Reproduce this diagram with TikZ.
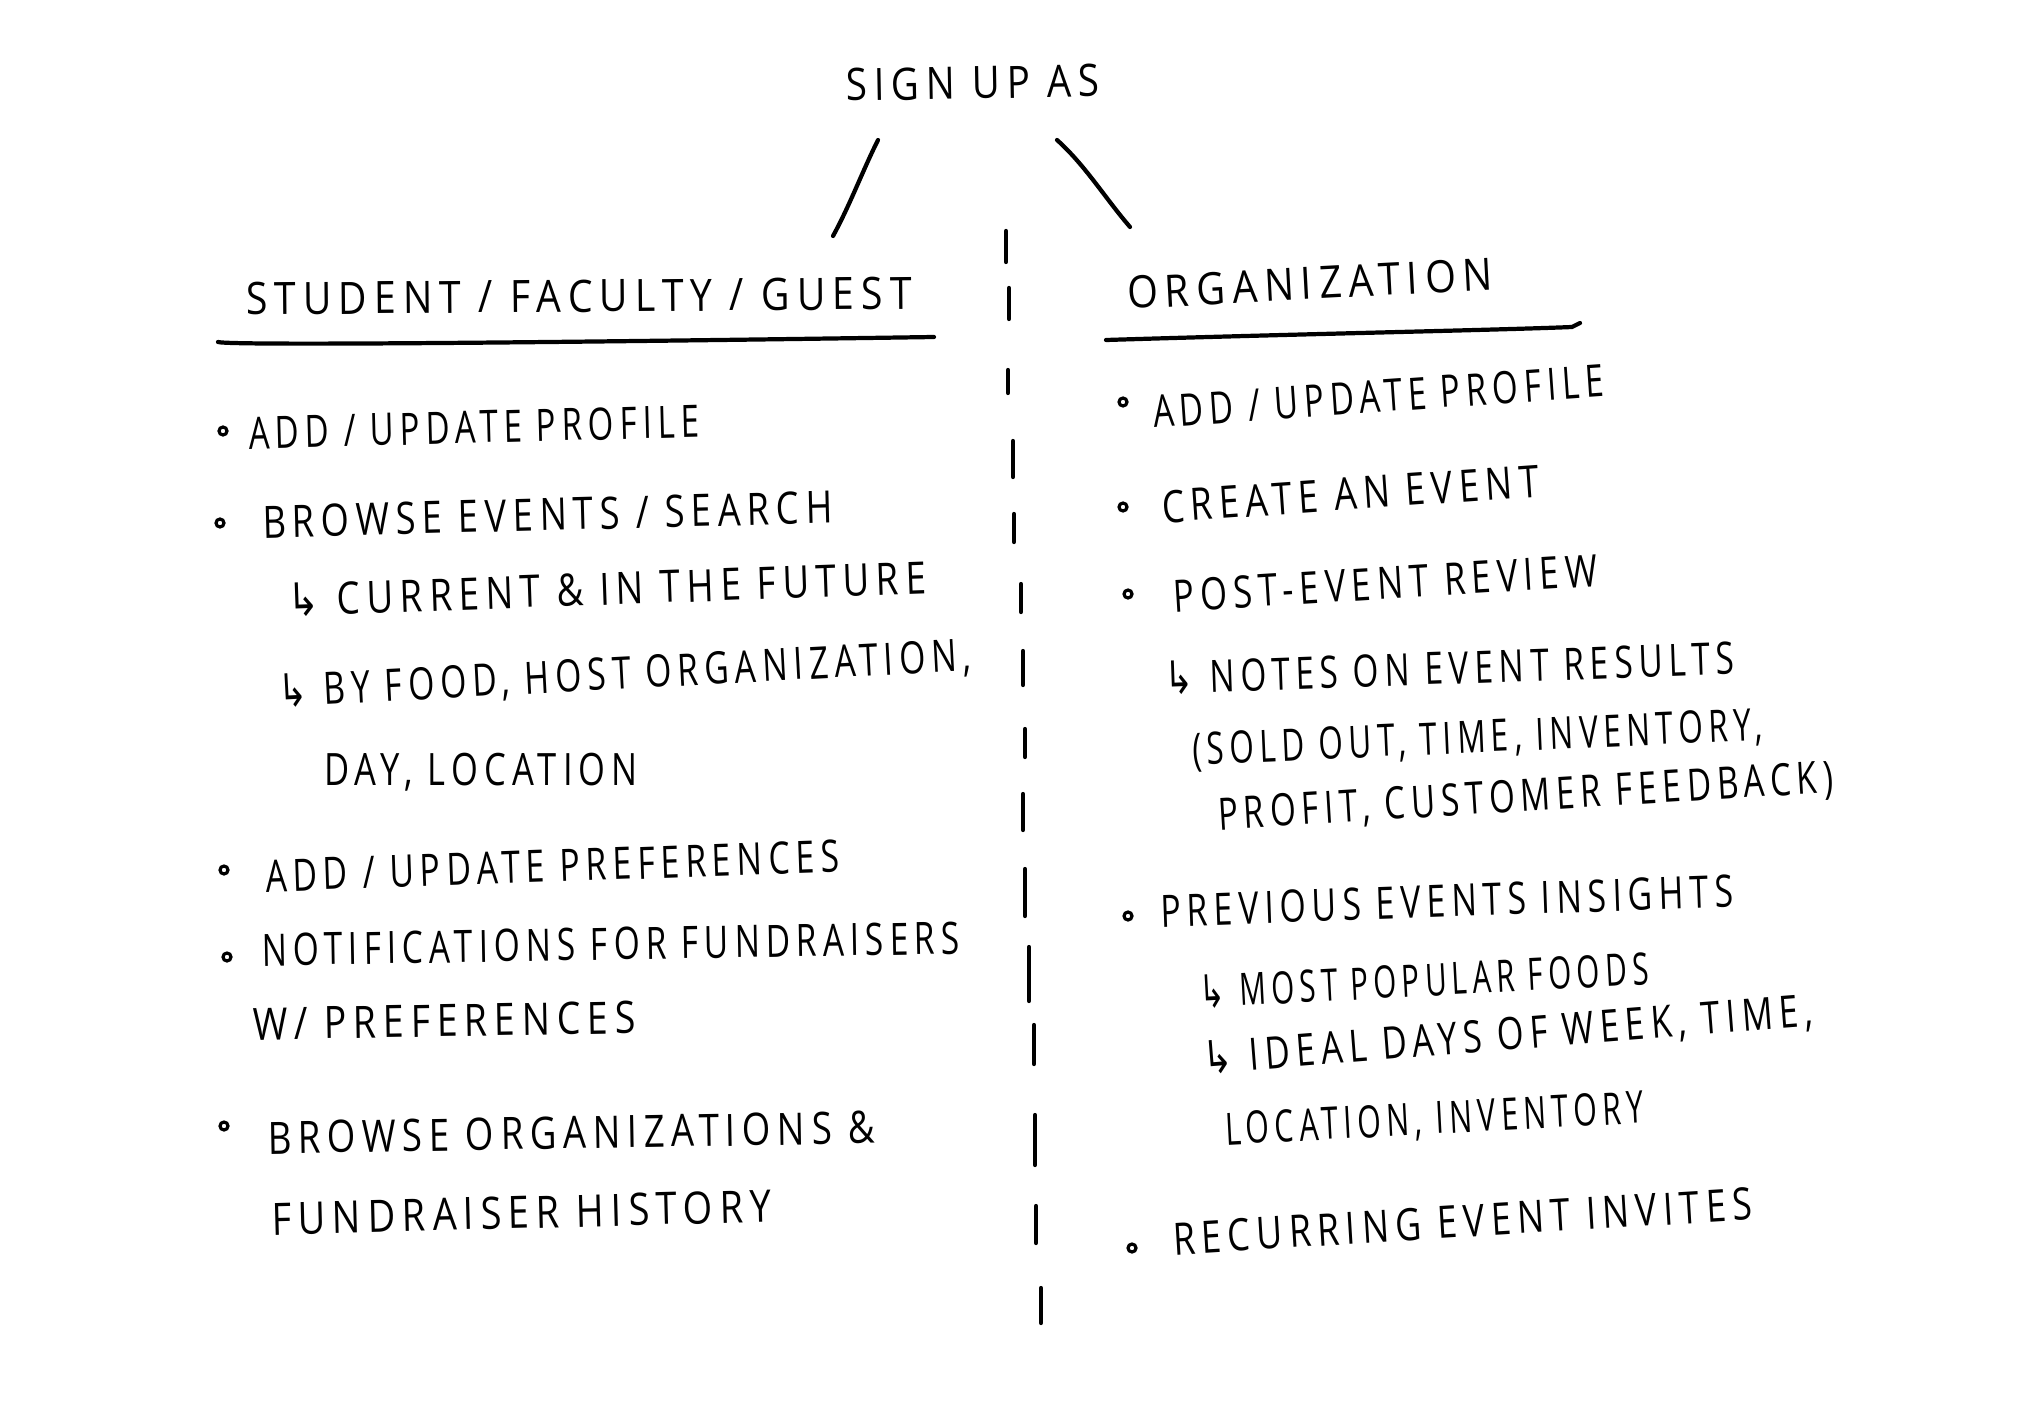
\documentclass[tikz,border=0pt]{standalone}
\usepackage{fontspec}
\usepackage{graphicx}
\newfontfamily\hand{Open Sans}[LetterSpace=18]
\newfontfamily\arr{DejaVu Sans}
\newsavebox\hwbox
\newdimen\hwdim
\newcommand\fitw[2]{\sbox\hwbox{#2}\hwdim=\wd\hwbox\pgfmathsetmacro\hwsx{#1/\hwdim}\scalebox{\hwsx}[1]{\usebox\hwbox}}
\newcommand\hook{\smash{\arr\fontsize{13}{13}\selectfont ↳}\hspace{0.5em}}
\tikzset{
  txt/.style={anchor=base west, inner sep=0pt, outer sep=0pt, font=\hand\fontsize{12.7}{15}\selectfont},
  dot/.style={circle, draw, line width=0.9pt, minimum size=0.8mm, inner sep=0pt},
  pen/.style={line width=1.2pt, line cap=round, line join=round},
}
\begin{document}
\begin{tikzpicture}[x=0.1mm, y=-0.1mm]
\useasboundingbox[fill=white] (0,0) rectangle (2034,1402);

% title and headers
\node[txt, rotate=1] (title) at (846,101) {\fitw{25.4mm}{SIGN UP AS}};
\node[txt, rotate=0.5] (hl) at (246,315) {\fitw{66.6mm}{STUDENT / FACULTY / GUEST}};
\node[txt, rotate=3] (hr) at (1128,309) {\fitw{36.6mm}{ORGANIZATION}};

% connectors from title
\coordinate (la) at (878,140);
\coordinate (lb) at (833,236);
\coordinate (ra) at (1057,140);
\coordinate (rb) at (1130,227);
\draw[pen] (la) .. controls (862,172) and (850,205) .. (lb);
\draw[pen] (ra) .. controls (1085,165) and (1105,198) .. (rb);

% underlines
\draw[pen] (218,342) .. controls (232,346) and (600,342) .. (934,337);
\draw[pen] (1106,340) .. controls (1300,334) and (1500,330) .. (1572,327) -- (1580,323);

% divider
\draw[pen]
  (1006,231) -- (1006,262)
  (1009,288) -- (1009,319)
  (1008,370) -- (1008,393)
  (1013,441) -- (1013,477)
  (1014,514) -- (1014,542)
  (1021,584) -- (1021,612)
  (1023,651) -- (1023,685)
  (1025,729) -- (1025,757)
  (1023,794) -- (1023,830)
  (1025,869) -- (1025,916)
  (1029,947) -- (1029,1001)
  (1034,1025) -- (1034,1064)
  (1035,1115) -- (1035,1165)
  (1036,1206) -- (1036,1243)
  (1041,1288) -- (1041,1323);

% left column
\node[dot] (lb1) at (223,431) {};
\node[txt, rotate=1.5] (l1) at (249,449) {\fitw{45.1mm}{ADD / UPDATE PROFILE}};
\node[dot] (lb2) at (220,523) {};
\node[txt, rotate=1.5] (l2) at (263,538) {\fitw{57.0mm}{BROWSE EVENTS / SEARCH}};
\node[txt, rotate=2] (l3) at (288,616) {\fitw{63.9mm}{\hook CURRENT \& IN THE FUTURE}};
\node[txt, rotate=3] (l4) at (279,707) {\fitw{69.4mm}{\hook BY FOOD, HOST ORGANIZATION,}};
\node[txt] (l5) at (324,785) {\fitw{31.4mm}{DAY, LOCATION}};
\node[dot] (lb3) at (224,870) {};
\node[txt, rotate=2] (l6) at (266,892) {\fitw{57.4mm}{ADD / UPDATE PREFERENCES}};
\node[dot] (lb4) at (227,957) {};
\node[txt, rotate=1] (l7) at (262,966) {\fitw{69.8mm}{NOTIFICATIONS FOR FUNDRAISERS}};
\node[txt, rotate=1] (l8) at (253,1040) {\fitw{38.3mm}{W/ PREFERENCES}};
\node[dot] (lb5) at (224,1126) {};
\node[txt, rotate=1] (l9) at (268,1154) {\fitw{60.7mm}{BROWSE ORGANIZATIONS \&}};
\node[txt, rotate=1.5] (l10) at (272,1235) {\fitw{50.0mm}{FUNDRAISER HISTORY}};

% right column
\node[dot] (rb1) at (1123,402) {};
\node[txt, rotate=4] (r1) at (1154,428) {\fitw{45.2mm}{ADD / UPDATE PROFILE}};
\node[dot] (rb2) at (1123,507) {};
\node[txt, rotate=4] (r2) at (1163,523) {\fitw{37.8mm}{CREATE AN EVENT}};
\node[dot] (rb3) at (1128,594) {};
\node[txt, rotate=3.5] (r3) at (1174,612) {\fitw{42.5mm}{POST-EVENT REVIEW}};
\node[txt, rotate=2] (r4) at (1165,694) {\fitw{57.0mm}{\hook NOTES ON EVENT RESULTS}};
\node[txt, rotate=2.5] (r5) at (1193,765) {\fitw{57.1mm}{(SOLD OUT, TIME, INVENTORY,}};
\node[txt, rotate=3.5] (r6) at (1219,830) {\fitw{61.6mm}{PROFIT, CUSTOMER FEEDBACK)}};
\node[dot] (rb4) at (1128,916) {};
\node[txt, rotate=2] (r7) at (1161,927) {\fitw{57.3mm}{PREVIOUS EVENTS INSIGHTS}};
\node[txt, rotate=3] (r8) at (1200,1008) {\fitw{45.0mm}{\hook MOST POPULAR FOODS}};
\node[txt, rotate=4.5] (r9) at (1204,1074) {\fitw{61.2mm}{\hook IDEAL DAYS OF WEEK, TIME,}};
\node[txt, rotate=3] (r10) at (1226,1145) {\fitw{41.9mm}{LOCATION, INVENTORY}};
\node[dot] (rb5) at (1132,1248) {};
\node[txt, rotate=3.5] (r11) at (1174,1255) {\fitw{58.0mm}{RECURRING EVENT INVITES}};
\end{tikzpicture}
\end{document}
